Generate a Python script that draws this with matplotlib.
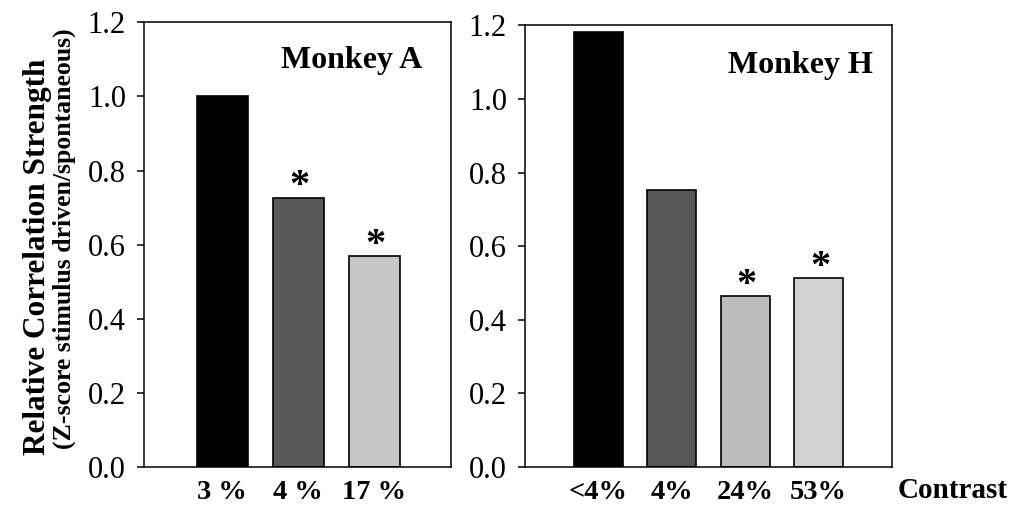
import matplotlib.pyplot as plt

# values
labels_a = ["3 %", "4 %", "17 %"]
values_a = [1.0, 0.727, 0.568]
signif_a = [False, True, True]

labels_h = ["<4%", "4%", "24%", "53%"]
values_h = [1.181, 0.753, 0.464, 0.513]
signif_h = [False, False, True, True]

colors_a = ["#000000", "#595959", "#c6c6c6"]
colors_h = ["#000000", "#575757", "#bdbdbd", "#d2d2d2"]

plt.rcParams["font.family"] = ["Liberation Serif", "DejaVu Serif"]

fig = plt.figure(figsize=(10.16, 5.07), dpi=100)
ax1 = fig.add_axes([0.1417, 0.079, 0.3022, 0.877])
ax2 = fig.add_axes([0.5167, 0.079, 0.3612, 0.871])


def draw_panel(ax, labels, values, colors, signif, title, xlim, title_xy):
    x = list(range(len(values)))
    ax.bar(x, values, width=0.67, color=colors, edgecolor="black", linewidth=1.2)
    for xi, v, s in zip(x, values, signif):
        if s:
            ax.text(xi + 0.02, v - 0.02, "*", ha="center", va="bottom",
                    fontsize=29, fontweight="bold")
    ax.set_xlim(*xlim)
    ax.set_ylim(0, 1.2)
    ax.set_yticks([0.0, 0.2, 0.4, 0.6, 0.8, 1.0, 1.2])
    ax.set_yticklabels(["0.0", "0.2", "0.4", "0.6", "0.8", "1.0", "1.2"])
    ax.set_xticks(x)
    ax.set_xticklabels(labels, fontsize=20.5, fontweight="bold")
    ax.tick_params(axis="y", direction="out", length=5, width=1.1, pad=8, labelsize=22)
    ax.tick_params(axis="x", length=0, pad=9.5)
    for sp in ax.spines.values():
        sp.set_linewidth(1.1)
    ax.text(title_xy[0], title_xy[1], title, transform=ax.transAxes,
            ha="right", va="center", fontsize=23, fontweight="bold")


draw_panel(ax1, labels_a, values_a, colors_a, signif_a, "Monkey A",
           (-1.03, 3.01), (0.906, 0.915))
draw_panel(ax2, labels_h, values_h, colors_h, signif_h, "Monkey H",
           (-1.0, 4.0), (0.948, 0.91))

fig.text(0.037, 0.494, "Relative Correlation Strength", rotation=90,
         ha="center", va="center", fontsize=22.5, fontweight="bold")
fig.text(0.063, 0.530, "(Z-score stimulus driven/spontaneous)", rotation=90,
         ha="center", va="center", fontsize=18.5, fontweight="bold")
fig.text(0.883, 0.032, "Contrast", ha="left", va="center",
         fontsize=21, fontweight="bold")

fig.savefig("out.png", dpi=100)
